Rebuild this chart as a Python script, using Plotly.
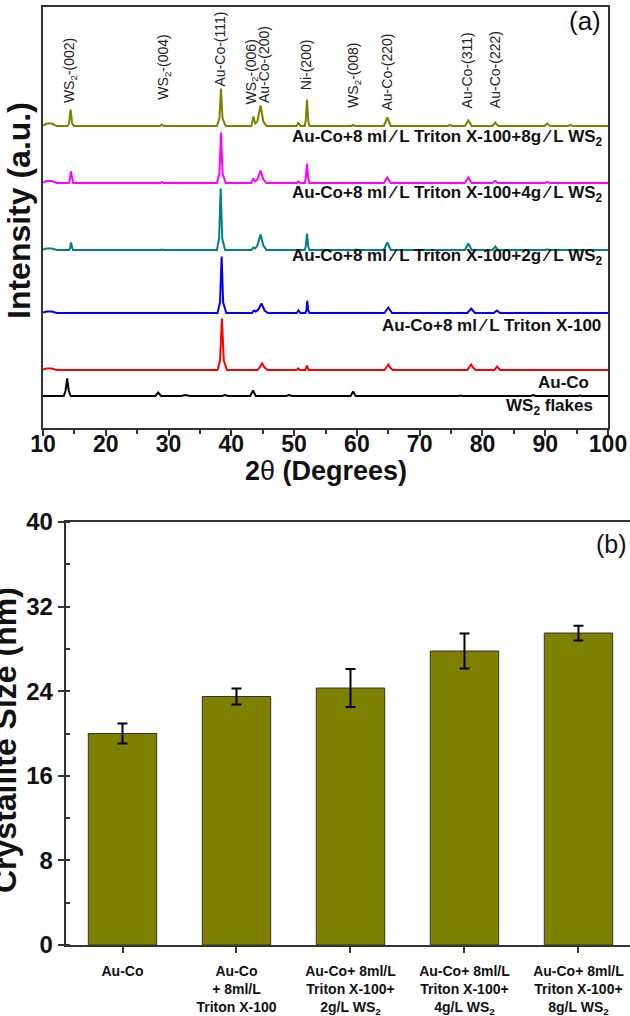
import plotly.graph_objects as go

W, H = 630, 1016
FONT = "Liberation Sans, Arial, sans-serif"

# ---------------- (a) XRD data (2theta, relative intensity) ----------------
series_names = [
    "Au-Co+8 ml \u2044 L Triton X-100+8g \u2044 L WS<sub>2</sub>",
    "Au-Co+8 ml \u2044 L Triton X-100+4g \u2044 L WS<sub>2</sub>",
    "Au-Co+8 ml \u2044 L Triton X-100+2g \u2044 L WS<sub>2</sub>",
    "Au-Co+8 ml \u2044 L Triton X-100",
    "Au-Co",
    "WS<sub>2</sub> flakes",
]
series_colors = ["#808000", "#ff00ff", "#008080", "#0000ff", "#ff0000", "#000000"]
series_offsets = [301.5, 244.5, 177.5, 114.5, 57.5, 31.5]

xrd_8g = [(10, 1), (10.6, 3), (11.4, 3), (12.2, 0.5), (13.9, 0.5), (14.15, 3), (14.4, 17), (14.65, 3), (14.9, 0.5),
          (28.6, 0.5), (28.9, 2), (29.2, 0.5), (37.7, 0.5), (38.1, 8), (38.35, 38), (38.6, 8), (39.1, 0.5),
          (43.2, 0.5), (43.5, 10), (43.8, 3), (44.15, 5), (44.65, 21), (45.1, 5), (45.6, 0.5),
          (50.4, 0.5), (50.7, 4), (51.0, 0.5), (51.7, 0.5), (51.85, 6), (52.05, 27), (52.25, 6), (52.45, 0.5),
          (59.1, 0.5), (59.4, 1.5), (59.7, 0.5), (64.3, 0.5), (64.85, 9), (65.4, 0.5), (74.5, 0.5), (74.8, 1.5),
          (75.1, 0.5), (77.2, 0.5), (77.75, 6), (78.3, 0.5), (81.6, 0.5), (82.05, 4), (82.5, 0.5),
          (89.9, 0.5), (90.3, 3), (90.8, 0.5), (93.6, 0.5), (94.0, 1.5), (94.4, 0.5), (100, 0.5)]
xrd_4g = [(10, 1), (10.6, 2.5), (11.4, 2.5), (12.2, 0.5), (14.1, 0.5), (14.25, 3), (14.45, 12), (14.65, 3), (14.8, 0.5),
          (28.7, 0.5), (28.95, 1.5), (29.2, 0.5), (37.7, 0.5), (38.1, 10), (38.35, 51), (38.6, 10), (39.1, 0.5),
          (43.2, 0.5), (43.5, 5), (43.8, 2), (44.15, 4), (44.65, 13), (45.1, 4), (45.6, 0.5),
          (50.4, 0.5), (50.7, 2), (51.0, 0.5), (51.7, 0.5), (51.85, 5), (52.05, 20), (52.25, 5), (52.45, 0.5),
          (64.3, 0.5), (64.85, 6), (65.4, 0.5), (77.2, 0.5), (77.75, 6), (78.3, 0.5), (81.6, 0.5), (82.05, 2.5),
          (82.5, 0.5), (89.9, 0.5), (90.3, 1.5), (90.8, 0.5), (100, 0.5)]
xrd_2g = [(10, 1), (10.6, 2), (11.4, 2), (12.2, 0.5), (14.15, 0.5), (14.3, 2), (14.45, 8), (14.6, 2), (14.75, 0.5),
          (28.7, 0.5), (28.95, 1), (29.2, 0.5), (37.7, 0.5), (38.05, 12), (38.3, 62), (38.55, 12), (39.0, 0.5),
          (43.2, 0.5), (43.5, 3), (43.8, 2), (44.15, 5), (44.65, 16), (45.1, 5), (45.6, 0.5),
          (51.7, 0.5), (51.85, 4), (52.05, 17), (52.25, 4), (52.45, 0.5), (59.6, 0.5), (59.9, 1), (60.2, 0.5),
          (64.3, 0.5), (64.85, 8), (65.4, 0.5), (77.2, 0.5), (77.75, 7), (78.3, 0.5), (81.6, 0.5), (82.05, 4),
          (82.5, 0.5), (89.9, 0.5), (90.3, 1), (90.8, 0.5), (100, 0.5)]
xrd_triton = [(10, 1), (10.6, 2), (11.4, 2), (12.2, 0.5), (37.8, 0.5), (38.2, 11), (38.45, 57), (38.7, 11), (39.2, 0.5),
              (43.3, 0.5), (43.6, 3), (43.9, 2), (44.3, 4), (44.8, 10), (45.3, 3), (45.8, 0.5),
              (50.4, 0.5), (50.7, 3), (51.0, 0.5), (51.8, 0.5), (51.95, 3), (52.1, 13), (52.25, 3), (52.45, 0.5),
              (64.4, 0.5), (65.0, 6), (65.6, 0.5), (77.6, 0.5), (78.2, 5), (78.8, 0.5), (81.8, 0.5), (82.3, 3),
              (82.8, 0.5), (89.9, 0.5), (90.3, 1), (90.8, 0.5), (100, 0.5)]
xrd_auco = [(10, 1), (10.6, 2), (11.4, 2), (12.2, 0.5), (37.8, 0.5), (38.2, 10), (38.5, 52), (38.8, 10), (39.3, 0.5),
            (44.2, 0.5), (44.6, 4), (44.9, 7), (45.3, 3), (45.8, 0.5), (50.4, 0.5), (50.65, 2), (50.9, 0.5),
            (51.8, 0.5), (52.05, 5), (52.3, 0.5), (64.4, 0.5), (64.7, 3), (65.0, 6), (65.3, 3), (65.7, 0.5),
            (77.6, 0.5), (77.9, 3), (78.2, 6), (78.5, 3), (78.9, 0.5), (81.9, 0.5), (82.35, 4), (82.8, 0.5),
            (89.8, 0.5), (90.2, 1), (90.6, 0.5), (100, 0.5)]
xrd_ws2 = [(10, 0.5), (13.3, 0.5), (13.6, 6), (13.85, 18), (14.1, 6), (14.4, 0.5), (27.9, 0.5), (28.35, 4), (28.8, 0.5),
           (32.0, 0.5), (32.7, 1.5), (33.4, 0.5), (38.5, 0.5), (39.0, 1.5), (39.5, 0.5), (43.0, 0.5), (43.45, 6),
           (43.9, 0.5), (48.7, 0.5), (49.2, 1.5), (49.7, 0.5), (57.6, 0.5), (57.9, 1), (58.2, 0.5), (59.0, 0.5),
           (59.4, 5), (59.8, 0.5), (76.2, 0.5), (76.5, 1), (76.8, 0.5), (87.7, 0.5), (88.1, 1.5), (88.5, 0.5),
           (95.2, 0.5), (95.5, 1), (95.8, 0.5), (100, 0.5)]
xrd_series = [xrd_8g, xrd_4g, xrd_2g, xrd_triton, xrd_auco, xrd_ws2]

# peak labels: (text, 2theta, label base intensity)
peak_labels = ["WS<sub>2</sub>-(002)", "WS<sub>2</sub>-(004)", "Au-Co-(111)", "WS<sub>2</sub>-(006)", "Au-Co-(200)",
               "Ni-(200)", "WS<sub>2</sub>-(008)", "Au-Co-(220)", "Au-Co-(311)", "Au-Co-(222)"]
peak_label_x = [14.4, 29.3, 38.35, 43.3, 45.3, 52.0, 59.6, 64.8, 77.6, 82.1]
peak_label_y = [323, 326, 340, 321, 323, 336, 318, 315, 318, 318]

# series label positions (2theta of right end, intensity)
series_label_x = [99.6, 99.6, 99.6, 99.2, 97.3, 97.9]
series_label_y = [290, 234, 171, 103, 46, 21]

xticks_a = [10, 20, 30, 40, 50, 60, 70, 80, 90, 100]

# ---------------- (b) crystallite size ----------------
categories = ["Au-Co",
              "Au-Co<br>+ 8ml/L<br>Triton X-100",
              "Au-Co+ 8ml/L<br>Triton X-100+<br>2g/L WS<sub>2</sub>",
              "Au-Co+ 8ml/L<br>Triton X-100+<br>4g/L WS<sub>2</sub>",
              "Au-Co+ 8ml/L<br>Triton X-100+<br>8g/L WS<sub>2</sub>"]
crystallite_size = [20.0, 23.5, 24.3, 27.8, 29.5]
size_error = [0.95, 0.75, 1.8, 1.65, 0.7]
yticks_b = [0, 8, 16, 24, 32, 40]


def fx(p):
    return p / W


def fy(p):
    return 1 - p / H


fig = go.Figure()

for pts, off, col, name in zip(xrd_series, series_offsets, series_colors, series_names):
    fig.add_trace(go.Scatter(
        x=[p[0] for p in pts], y=[p[1] + off for p in pts],
        mode="lines", line=dict(color=col, width=2), name=name,
        xaxis="x", yaxis="y", showlegend=False, hoverinfo="skip"))

fig.add_trace(go.Bar(
    x=categories, y=crystallite_size,
    error_y=dict(type="data", array=size_error, color="#000000", thickness=2, width=5),
    marker=dict(color="#808000", line=dict(color="#333333", width=1)),
    width=0.6, xaxis="x2", yaxis="y2", showlegend=False))

axis_line = dict(showline=True, linecolor="#333333", linewidth=1.5, showgrid=False, zeroline=False)

annotations = []
for t, x, y in zip(peak_labels, peak_label_x, peak_label_y):
    annotations.append(dict(text=t, x=x, y=y, xref="x", yref="y", xanchor="center", yanchor="bottom",
                            textangle=-90, showarrow=False,
                            font=dict(family=FONT, size=14, color="#222222")))
for t, x, y in zip(series_names, series_label_x, series_label_y):
    annotations.append(dict(text=t, x=x, y=y, xref="x", yref="y", xanchor="right", yanchor="middle",
                            showarrow=False,
                            font=dict(family=FONT, size=17, color="#111111", weight="bold")))

annotations += [
    dict(text="(a)", x=fx(585), y=fy(21), xref="paper", yref="paper", xanchor="center", yanchor="middle",
         showarrow=False, font=dict(family=FONT, size=26, color="#111111")),
    dict(text="(b)", x=fx(594), y=fy(544), xref="paper", yref="paper", xanchor="left", yanchor="middle",
         showarrow=False, font=dict(family=FONT, size=25, color="#111111")),
    dict(text="2<span style='font-weight:normal'>\u03b8</span> (Degrees)", x=fx(326), y=fy(471),
         xref="paper", yref="paper", xanchor="center", yanchor="middle", showarrow=False,
         font=dict(family=FONT, size=27, color="#111111", weight="bold")),
    dict(text="Intensity (a.u.)", x=fx(19), y=fy(211), xref="paper", yref="paper", xanchor="center",
         yanchor="middle", textangle=-90, showarrow=False,
         font=dict(family=FONT, size=32, color="#111111", weight="bold")),
    dict(text="Crystallite Size (nm)", x=fx(5), y=fy(740), xref="paper", yref="paper", xanchor="center",
         yanchor="middle", textangle=-90, showarrow=False,
         font=dict(family=FONT, size=32, color="#111111", weight="bold")),
]

fig.update_layout(
    width=W, height=H, margin=dict(l=0, r=0, t=0, b=0, pad=0, autoexpand=False),
    paper_bgcolor="white", plot_bgcolor="white", bargap=0.4,
    xaxis=dict(domain=[fx(43), fx(608)], range=[10, 100], anchor="y", tickvals=xticks_a,
               ticks="outside", ticklen=6, tickwidth=1.5, tickcolor="#333333", mirror=True,
               ticklabelstandoff=-11,
               minor=dict(dtick=5, ticks="outside", ticklen=4, tickwidth=1.5, tickcolor="#333333"),
               tickfont=dict(family=FONT, size=23, color="#111111", weight="bold"), **axis_line),
    yaxis=dict(domain=[fy(428), fy(7)], range=[0, 421], anchor="x", showticklabels=False, ticks="",
               mirror=True, **axis_line),
    xaxis2=dict(domain=[fx(65.5), 1.0], range=[-0.5, 4.452], anchor="y2", type="category",
                ticks="outside", ticklen=6, tickwidth=1.5, tickcolor="#333333", mirror=True,
                ticklabelstandoff=6,
                tickfont=dict(family=FONT, size=14, color="#111111", weight="bold"), **axis_line),
    yaxis2=dict(domain=[fy(945), fy(522)], range=[0, 40], anchor="x2", tickvals=yticks_b,
                ticks="outside", ticklen=6, tickwidth=1.5, tickcolor="#333333",
                minor=dict(dtick=4, ticks="inside", ticklen=5, tickwidth=1.5, tickcolor="#333333"),
                tickfont=dict(family=FONT, size=24, color="#111111", weight="bold"), **axis_line),
    annotations=annotations,
)

fig.write_html("out.html", config={"displayModeBar": False},
               post_script="document.body.style.margin='0';document.body.style.overflow='hidden';")
